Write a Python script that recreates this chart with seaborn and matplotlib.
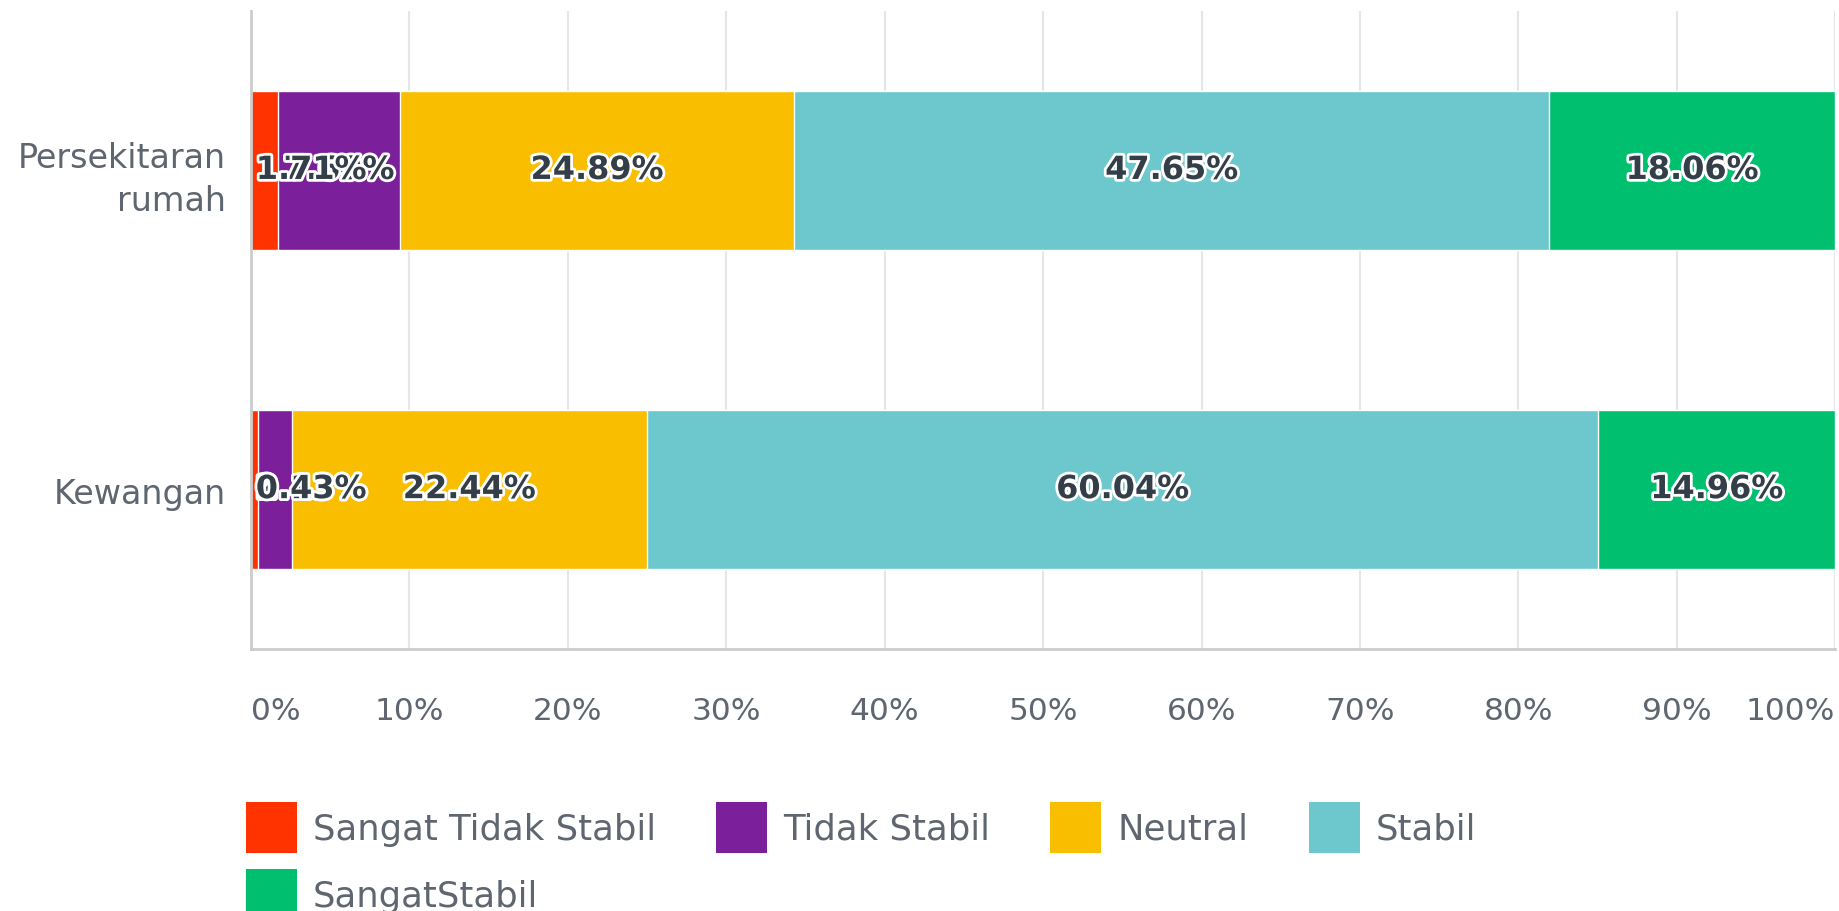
import matplotlib.pyplot as plt
import matplotlib.patheffects as pe
from matplotlib.patches import Patch
import seaborn as sns
import numpy as np

kategori = ["Persekitaran\nrumah", "Kewangan"]
tahap = ["Sangat Tidak Stabil", "Tidak Stabil", "Neutral", "Stabil", "SangatStabil"]
warna = ["#FF3300", "#7B1F9B", "#F9BE00", "#6CC8CC", "#00BF6F"]

sangat_tidak_stabil = [1.71, 0.43]
tidak_stabil = [7.69, 2.13]
neutral = [24.89, 22.44]
stabil = [47.65, 60.04]
sangat_stabil = [18.06, 14.96]

siri = [sangat_tidak_stabil, tidak_stabil, neutral, stabil, sangat_stabil]
kumulatif = np.cumsum(np.array(siri), axis=0)

sns.set_style("white")
plt.rcParams["font.family"] = ["DejaVu Sans"]

fig = plt.figure(figsize=(18.39, 9.12), dpi=100)
ax = fig.add_axes([0.1365, 0.287, 0.8615, 0.70])

# stacked bars: longest cumulative bar first, shorter ones drawn over it
for i in range(len(siri) - 1, -1, -1):
    sns.barplot(x=kumulatif[i], y=kategori, orient="h", color=warna[i],
                saturation=1, width=0.5, ax=ax, zorder=2)

ax.set_xlim(0, 100)
ax.set_ylim(1.5, -0.5)

# labels (small segments pushed to the left edge; red drawn last so it sits on top)
urutan_label = [1, 0, 2, 3, 4]
for i in urutan_label:
    for j in range(len(kategori)):
        v = siri[i][j]
        kiri = kumulatif[i][j] - v
        tengah = kiri + v / 2
        if tengah < 2:
            x, ha = 0.3, "left"
        else:
            x, ha = tengah, "center"
        ax.text(x, j, f"{v:.2f}%", ha=ha, va="center", fontsize=23,
                fontweight="bold", color="#333e48", zorder=5,
                path_effects=[pe.withStroke(linewidth=4, foreground="white")])

ax.set_xticks(np.arange(0, 101, 10))
ax.set_xticklabels([f"{t}%" for t in range(0, 101, 10)])
ax.tick_params(axis="x", length=0, pad=33.5, labelsize=22.5, labelcolor="#5f6670")
ax.tick_params(axis="y", length=0, pad=18, labelsize=24, labelcolor="#5f6670")
lbls = ax.get_xticklabels()
lbls[0].set_ha("left")
lbls[-1].set_ha("right")
for t in ax.get_yticklabels():
    t.set_ha("right")
    t.set_multialignment("right")
    t.set_linespacing(1.4)

ax.grid(axis="x", color="#e6e6e6", linewidth=1.5, zorder=0)
ax.set_axisbelow(True)
for s in ["top", "right"]:
    ax.spines[s].set_visible(False)
for s in ["left", "bottom"]:
    ax.spines[s].set_color("#cccccc")
    ax.spines[s].set_linewidth(2)
ax.set_xlabel("")
ax.set_ylabel("")

handles = [Patch(facecolor=c, edgecolor="none") for c in warna]
urutan = [0, 4, 1, 2, 3]
fig.legend([handles[k] for k in urutan], [tahap[k] for k in urutan],
           loc="upper left", bbox_to_anchor=(0.1338, 0.119), ncol=4,
           frameon=False, fontsize=25.5, labelcolor="#5f6670",
           handlelength=1.44, handleheight=1.8, handletextpad=0.45,
           columnspacing=1.7, labelspacing=0.47, borderpad=0, borderaxespad=0)

fig.savefig("out.png", dpi=100)
